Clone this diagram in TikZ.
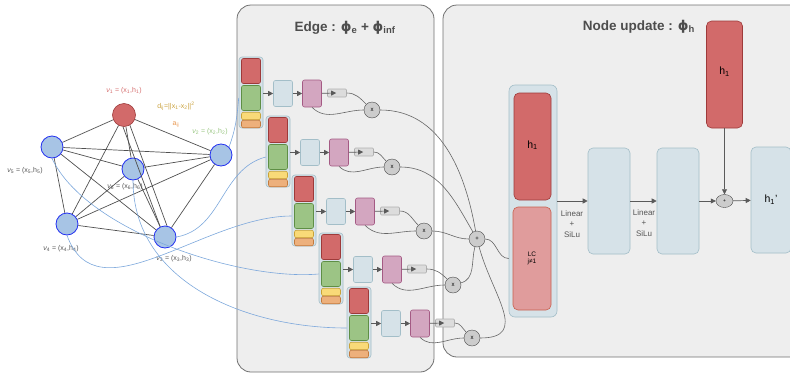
\documentclass[tikz,border=0pt]{standalone}
\usepackage{fontspec}
\setmainfont{Liberation Sans}
\newfontfamily\symfont{DejaVu Sans}
\usetikzlibrary{arrows.meta,shapes.geometric}

\definecolor{gblue}{HTML}{A7C4E5}
\definecolor{gborder}{HTML}{2230F0}
\definecolor{fred}{HTML}{D26A6A}
\definecolor{fredb}{HTML}{9E3A3A}
\definecolor{fgreen}{HTML}{9CC485}
\definecolor{fgreenb}{HTML}{5E8F45}
\definecolor{fyellow}{HTML}{F9DA78}
\definecolor{fyellowb}{HTML}{C8A238}
\definecolor{forange}{HTML}{EDB07C}
\definecolor{forangeb}{HTML}{C27A3E}
\definecolor{lblue}{HTML}{D6E2E8}
\definecolor{lblueb}{HTML}{A3BEC8}
\definecolor{fpink}{HTML}{D3A6C0}
\definecolor{fpinkb}{HTML}{A45A84}
\definecolor{lcred}{HTML}{E09C9C}
\definecolor{lcredb}{HTML}{C8604E}
\definecolor{gatefill}{HTML}{DCDCDC}
\definecolor{gateb}{HTML}{B0B0B0}
\definecolor{panelbg}{HTML}{EEEEEE}
\definecolor{panelb}{HTML}{707070}
\definecolor{curveblue}{HTML}{7DA8DC}
\definecolor{txtgray}{HTML}{555555}
\definecolor{titlegray}{HTML}{4D4D4D}
\definecolor{edgegray}{HTML}{505050}
\definecolor{wiregray}{HTML}{666666}
\definecolor{arrowgray}{HTML}{5A5A5A}
\definecolor{dgold}{HTML}{C9A03A}
\definecolor{aorange}{HTML}{E8964E}
\definecolor{vgreen}{HTML}{96C47E}
\definecolor{vred}{HTML}{D46C6C}

\begin{document}
\begin{tikzpicture}[x=1pt, y=1pt,
    gnode/.style={shape=circle, draw=gborder, fill=gblue, minimum size=22pt, inner sep=0pt, line width=0.8pt},
    rnode/.style={shape=circle, draw=fredb, fill=fred, minimum size=23pt, inner sep=0pt, line width=0.6pt},
    vlabel/.style={font=\fontsize{7}{8}\selectfont, text=txtgray, inner sep=0pt},
    panel/.style={shape=rectangle, rounded corners=14pt, draw=panelb, fill=panelbg, line width=0.8pt, inner sep=0pt},
    title/.style={font=\bfseries\fontsize{13.5}{15}\selectfont, text=titlegray, inner sep=0pt},
    column/.style={shape=rectangle, rounded corners=3pt, draw=lblueb, fill=lblue, line width=0.6pt, minimum width=24pt, minimum height=71pt, inner sep=0pt},
    basebox/.style={shape=rectangle, rounded corners=2pt, line width=0.6pt, minimum width=19pt, inner sep=0pt},
    redbox/.style={basebox, draw=fredb, fill=fred, minimum height=25pt},
    greenbox/.style={basebox, draw=fgreenb, fill=fgreen, minimum height=25pt},
    yellowbox/.style={basebox, draw=fyellowb, fill=fyellow, minimum height=7.5pt},
    orangebox/.style={basebox, draw=forangeb, fill=forange, minimum height=7.5pt},
    linbox/.style={basebox, draw=lblueb, fill=lblue, minimum height=26pt},
    msgbox/.style={basebox, draw=fpinkb, fill=fpink, minimum height=27pt},
    gatebox/.style={basebox, rounded corners=1pt, draw=gateb, fill=gatefill, minimum height=8pt},
    multnode/.style={shape=circle, draw=gray!60!black, fill=gray!40, minimum size=16pt, inner sep=0pt, font=\fontsize{6}{6}\selectfont},
    bigbox/.style={shape=rectangle, rounded corners=5pt, line width=0.6pt, inner sep=0pt},
    flow/.style={draw=arrowgray, line width=0.7pt, -{Triangle[length=5pt,width=5pt]}},
    wire/.style={draw=wiregray, line width=0.6pt},
    bluewire/.style={draw=curveblue, line width=0.6pt},
    gedge/.style={color=edgegray, line width=0.7pt}]

      \useasboundingbox (0,0) rectangle (790,-375);
      \clip (0,0) rectangle (790,-375);

      \node[panel, minimum width=197pt, minimum height=367pt] (edgepanel) at (335.5,-188.5) {};
      \node[panel, minimum width=377pt, minimum height=352pt] (nodepanel) at (631.5,-181) {};
      \node[title] (edgetitle) at (345,-28) {Edge : {\symfont ϕ}\textsubscript{e} + {\symfont ϕ}\textsubscript{inf}};
      \node[title] (nodetitle) at (639,-27) {Node update : {\symfont ϕ}\textsubscript{h}};

      \node[rnode] (v1) at (124,-115) {};
      \node[gnode] (v2) at (221,-155) {};
      \node[gnode] (v3) at (165,-237) {};
      \node[gnode] (v4) at (67,-224) {};
      \node[gnode] (v5) at (52,-147) {};
      \node[gnode] (v6) at (133,-169) {};

      \node[vlabel, text=vred] (v1lbl) at (124,-91) {\textit{ν}\textsubscript{1} = (x\textsubscript{1},h\textsubscript{1})};
      \node[vlabel, text=dgold] (dlbl) at (176,-106) {d\textsubscript{ij}=||x\textsubscript{1}-x\textsubscript{2}||\textsuperscript{2}};
      \node[vlabel, text=aorange] (albl) at (176,-125) {a\textsubscript{ij}};
      \node[vlabel, text=vgreen] (v2lbl) at (210,-132) {\textit{ν}\textsubscript{2} = (x\textsubscript{2},h\textsubscript{2})};
      \node[vlabel] (v5lbl) at (25,-171) {\textit{ν}\textsubscript{5} = (x\textsubscript{5},h\textsubscript{5})};
      \node[vlabel] (v6lbl) at (125,-187) {\textit{ν}\textsubscript{6} = (x\textsubscript{6},h\textsubscript{6})};
      \node[vlabel] (v4lbl) at (61,-249) {\textit{ν}\textsubscript{4} = (x\textsubscript{4},h\textsubscript{4})};
      \node[vlabel] (v3lbl) at (174,-259) {\textit{ν}\textsubscript{3} = (x\textsubscript{3},h\textsubscript{3})};

      \node[column] (col1) at (251,-92.5) {};
      \node[redbox] (red1) at (251,-71) {};
      \node[greenbox] (grn1) at (251,-98) {};
      \node[yellowbox] (yel1) at (251,-116) {};
      \node[orangebox] (org1) at (251,-124) {};
      \node[linbox] (lin1) at (283,-93.5) {};
      \node[msgbox] (msg1) at (312,-93.5) {};
      \node[gatebox] (gate1) at (337,-93) {};
      \node[multnode] (mult1) at (372,-110) {x};

      \node[column] (col2) at (278,-151.5) {};
      \node[redbox] (red2) at (278,-130) {};
      \node[greenbox] (grn2) at (278,-157) {};
      \node[yellowbox] (yel2) at (278,-175) {};
      \node[orangebox] (org2) at (278,-183) {};
      \node[linbox] (lin2) at (310,-152.5) {};
      \node[msgbox] (msg2) at (339,-152.5) {};
      \node[gatebox] (gate2) at (364,-152) {};
      \node[multnode] (mult2) at (392,-167) {x};

      \node[column] (col3) at (304,-210.5) {};
      \node[redbox] (red3) at (304,-189) {};
      \node[greenbox] (grn3) at (304,-216) {};
      \node[yellowbox] (yel3) at (304,-234) {};
      \node[orangebox] (org3) at (304,-242) {};
      \node[linbox] (lin3) at (336,-211.5) {};
      \node[msgbox] (msg3) at (365,-211.5) {};
      \node[gatebox] (gate3) at (390,-211) {};
      \node[multnode] (mult3) at (424,-231) {x};

      \node[column] (col4) at (331,-268.5) {};
      \node[redbox] (red4) at (331,-247) {};
      \node[greenbox] (grn4) at (331,-274) {};
      \node[yellowbox] (yel4) at (331,-292) {};
      \node[orangebox] (org4) at (331,-300) {};
      \node[linbox] (lin4) at (363,-269.5) {};
      \node[msgbox] (msg4) at (392,-269.5) {};
      \node[gatebox] (gate4) at (417,-269) {};
      \node[multnode] (mult4) at (453,-285) {x};

      \node[column] (col5) at (359,-322.5) {};
      \node[redbox] (red5) at (359,-301) {};
      \node[greenbox] (grn5) at (359,-328) {};
      \node[yellowbox] (yel5) at (359,-346) {};
      \node[orangebox] (org5) at (359,-354) {};
      \node[linbox] (lin5) at (391,-323.5) {};
      \node[msgbox] (msg5) at (420,-323.5) {};
      \node[gatebox] (gate5) at (445,-323) {};
      \node[multnode] (mult5) at (472,-338) {x};

      \node[multnode] (sum) at (477,-239) {+};

      \node[bigbox, draw=lblueb, fill=lblue, minimum width=48pt, minimum height=232pt, rounded corners=6pt] (ncol) at (533,-201) {};
      \node[bigbox, draw=fredb, fill=fred, minimum width=37pt, minimum height=107pt, font=\fontsize{10.5}{11}\selectfont] (hself) at (532.5,-146.5) {\raisebox{4pt}{h\textsubscript{1}}};
      \node[bigbox, draw=lcredb, fill=lcred, minimum width=38pt, minimum height=103pt, align=center, font=\fontsize{6.5}{7.5}\selectfont] (lcbox) at (532,-258.5) {LC\\j≠1};
      \node[bigbox, draw=lblueb, fill=lblue, minimum width=42pt, minimum height=106pt] (hid1) at (609,-201) {};
      \node[bigbox, draw=lblueb, fill=lblue, minimum width=42pt, minimum height=106pt] (hid2) at (678,-201) {};
      \node[bigbox, draw=lblueb, fill=lblue, minimum width=40pt, minimum height=106pt, font=\fontsize{10.5}{11}\selectfont] (hout) at (771,-200) {h\textsubscript{1}'};
      \node[bigbox, draw=fredb, fill=fred, minimum width=36pt, minimum height=107pt, font=\fontsize{10.5}{11}\selectfont] (htop) at (724.5,-74.5) {\raisebox{7pt}{h\textsubscript{1}}};
      \node[shape=ellipse, draw=gray!60!black, fill=gray!40, minimum width=17pt, minimum height=13pt, inner sep=0pt, font=\fontsize{5}{5}\selectfont] (addnode) at (724.5,-201) {+};
      \node[align=center, text=txtgray, font=\fontsize{8}{10.5}\selectfont] (act1) at (572,-224) {Linear\\+\\SiLu};
      \node[align=center, text=txtgray, font=\fontsize{8}{10.5}\selectfont] (act2) at (644,-223) {Linear\\+\\SiLu};

      \path [gedge] (v1) edge (v2);
      \path [gedge] (v1.-95) edge (v3.115);
      \path [gedge] (v1.-60) edge (v3.80);
      \path [gedge] (v1) edge (v4);
      \path [gedge] (v1) edge (v5);
      \path [gedge] (v1) edge (v6);
      \path [gedge] (v2) edge (v3);
      \path [gedge] (v2) edge (v4);
      \path [gedge] (v2) edge (v5);
      \path [gedge] (v2) edge (v6);
      \path [gedge] (v3) edge (v4);
      \path [gedge] (v3) edge (v5);
      \path [gedge] (v3) edge (v6);
      \path [gedge] (v4) edge (v5);
      \path [gedge] (v4) edge (v6);
      \path [gedge] (v5) edge (v6);

      \draw [bluewire] (v2.north east) to[out=70, in=-95] (col1.west |- grn1);
      \draw [bluewire] (v3.east) to[out=10, in=195] (col2.west |- grn2);
      \draw [bluewire] (v4.south) to[out=-70, in=180] (col3.west |- grn3);
      \draw [bluewire] (v5.south) to[out=-65, in=185, looseness=0.7] (col4.west |- grn4);
      \draw [bluewire] (v6.south) to[out=-90, in=180] (col5.west |- grn5);

      \draw [flow] (col1.east |- lin1) -- (lin1);
      \draw [flow] (lin1) -- (msg1);
      \draw [flow] (msg1) -- ([xshift=9pt]gate1.west);
      \draw [wire] (gate1.east) to[out=0, in=135] (mult1);
      \draw [wire] (msg1.south) to[out=-45, in=180] (mult1);

      \draw [flow] (col2.east |- lin2) -- (lin2);
      \draw [flow] (lin2) -- (msg2);
      \draw [flow] (msg2) -- ([xshift=9pt]gate2.west);
      \draw [wire] (gate2.east) to[out=0, in=135] (mult2);
      \draw [wire] (msg2.south) to[out=-45, in=180] (mult2);

      \draw [flow] (col3.east |- lin3) -- (lin3);
      \draw [flow] (lin3) -- (msg3);
      \draw [flow] (msg3) -- ([xshift=9pt]gate3.west);
      \draw [wire] (gate3.east) to[out=0, in=135] (mult3);
      \draw [wire] (msg3.south) to[out=-45, in=180] (mult3);

      \draw [flow] (col4.east |- lin4) -- (lin4);
      \draw [flow] (lin4) -- (msg4);
      \draw [flow] (msg4) -- ([xshift=9pt]gate4.west);
      \draw [wire] (gate4.east) to[out=0, in=135] (mult4);
      \draw [wire] (msg4.south) to[out=-45, in=180] (mult4);

      \draw [flow] (col5.east |- lin5) -- (lin5);
      \draw [flow] (lin5) -- (msg5);
      \draw [flow] (msg5) -- ([xshift=9pt]gate5.west);
      \draw [wire] (gate5.east) to[out=0, in=135] (mult5);
      \draw [wire] (msg5.south) to[out=-45, in=180] (mult5);

      \draw [wire] (mult1) to[out=0, in=100] (sum);
      \draw [wire] (mult2) to[out=0, in=120] (sum);
      \draw [wire] (mult3) to[out=0, in=180] (sum);
      \draw [wire] (mult4) to[out=15, in=-105] (sum);
      \draw [wire] (mult5) to[out=0, in=-75, looseness=1.4] (sum);
      \draw [wire] (sum) to[out=0, in=180] (ncol.west |- lcbox);

      \draw [flow] (ncol) -- (hid1);
      \draw [flow] (hid1) -- (hid2);
      \draw [flow] (hid2) -- (addnode);
      \draw [flow] (addnode) -- (hout);
      \draw [flow] (htop) -- (addnode);

      \end{tikzpicture}
\end{document}
